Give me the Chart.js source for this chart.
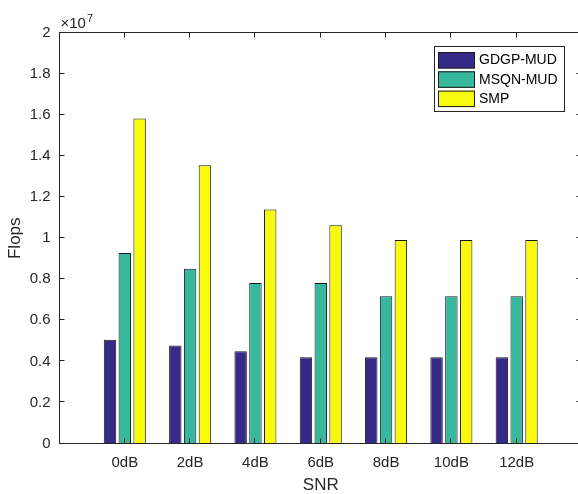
<!DOCTYPE html>
<html>
<head>
<meta charset="utf-8">
<script src="https://cdn.jsdelivr.net/npm/chart.js@4/dist/chart.umd.min.js"></script>
<style>
  html, body { margin: 0; padding: 0; background: #fff; overflow: hidden; }
  /* o eixo direito do original fica cortado fora da imagem */
  #caixa { width: 578px; height: 494px; overflow: hidden; }
</style>
</head>
<body>
<div id="caixa"><canvas id="grafico" width="582" height="494"></canvas></div>
<script>
// valores (Flops)
const categorias = ['0dB', '2dB', '4dB', '6dB', '8dB', '10dB', '12dB'];
const gdgpMud = [5.06e6, 4.78e6, 4.49e6, 4.2e6, 4.2e6, 4.2e6, 4.2e6];
const msqnMud = [9.28e6, 8.52e6, 7.82e6, 7.82e6, 7.17e6, 7.17e6, 7.17e6];
const smp = [1.584e7, 1.356e7, 1.14e7, 1.063e7, 0.992e7, 0.992e7, 0.992e7];
const yTicks = [0, 0.2e7, 0.4e7, 0.6e7, 0.8e7, 1e7, 1.2e7, 1.4e7, 1.6e7, 1.8e7, 2e7];

const corEixo = '#262626';
const fonte = 'Liberation Sans, Arial, Helvetica, sans-serif';

// uma posicao vazia em cada ponta, como no eixo do MATLAB (0..8)
const rotulos = ['', ...categorias, ''];
const comPontas = arr => [null, ...arr, null];

const moldura = {
  id: 'moldura',
  afterDatasetsDraw(chart) {
    const { ctx, chartArea: a, scales: { x, y } } = chart;
    const L = Math.round(a.left) - 0.5, R = Math.round(a.right) - 0.5;
    const T = Math.round(a.top) - 0.5, B = Math.round(a.bottom) - 0.5;
    ctx.save();
    ctx.strokeStyle = corEixo;
    ctx.lineWidth = 1;
    ctx.beginPath();
    yTicks.forEach(v => {
      const py = Math.round(y.getPixelForValue(v)) - 0.5;
      ctx.moveTo(L, py); ctx.lineTo(L + 5, py);
      ctx.moveTo(R, py); ctx.lineTo(R - 5, py);
    });
    categorias.forEach((c, i) => {
      const px = Math.round(x.getPixelForValue(i + 1)) - 0.5;
      ctx.moveTo(px, T); ctx.lineTo(px, T + 5);
      ctx.moveTo(px, B); ctx.lineTo(px, B - 5);
    });
    ctx.stroke();
    ctx.strokeRect(L, T, R - L, B - T);

    // multiplicador do eixo y
    ctx.fillStyle = corEixo;
    ctx.textBaseline = 'alphabetic';
    ctx.textAlign = 'left';
    ctx.font = '15px ' + fonte;
    ctx.fillText('\u00d710', L + 1, 28);
    const w = ctx.measureText('\u00d710').width;
    ctx.font = '11px ' + fonte;
    ctx.fillText('7', L + w + 2, 22);
    ctx.restore();
  },
  afterDraw(chart) {
    // legenda no canto superior direito
    const ctx = chart.ctx;
    const bx = 434.5, by = 46.5, bw = 130, bh = 65;
    ctx.save();
    ctx.fillStyle = '#fff';
    ctx.fillRect(bx, by, bw, bh);
    ctx.strokeStyle = corEixo;
    ctx.lineWidth = 1;
    ctx.strokeRect(bx, by, bw, bh);
    ctx.font = '14px ' + fonte;
    ctx.textBaseline = 'middle';
    ctx.textAlign = 'left';
    chart.data.datasets.forEach((ds, i) => {
      const ry = 52 + i * 19.3;
      ctx.fillStyle = ds.backgroundColor;
      ctx.fillRect(438, ry, 37, 16.5);
      ctx.strokeStyle = '#1a1a1a';
      ctx.strokeRect(438.5, ry + 0.5, 36, 15.5);
      ctx.fillStyle = '#000';
      ctx.fillText(ds.label, 479, ry + 8.5);
    });
    ctx.restore();
  }
};

new Chart(document.getElementById('grafico'), {
  type: 'bar',
  data: {
    labels: rotulos,
    datasets: [
      { label: 'GDGP-MUD', data: comPontas(gdgpMud), backgroundColor: '#352a87' },
      { label: 'MSQN-MUD', data: comPontas(msqnMud), backgroundColor: '#37b89d' },
      { label: 'SMP', data: comPontas(smp), backgroundColor: '#f8fa0d' }
    ]
  },
  options: {
    responsive: false,
    animation: false,
    devicePixelRatio: 1,
    layout: { padding: { top: 33, right: 0, left: 0, bottom: 0 } },
    datasets: {
      bar: {
        categoryPercentage: 0.68,
        barPercentage: 0.84,
        borderWidth: 1,
        borderColor: '#1a1a1a'
      }
    },
    scales: {
      x: {
        offset: false,
        grid: { display: false, drawTicks: false },
        border: { display: false },
        ticks: {
          color: corEixo,
          font: { family: fonte, size: 15 },
          padding: 10,
          maxRotation: 0,
          autoSkip: false
        },
        title: {
          display: true,
          text: 'SNR',
          color: corEixo,
          font: { family: fonte, size: 17, lineHeight: 1 },
          padding: { top: 0, bottom: 0 }
        },
        afterFit(s) {
          s.height = 50.5;
          s.paddingLeft = 0;
          s.paddingRight = 0;
        }
      },
      y: {
        min: 0,
        max: 2e7,
        grid: { display: false, drawTicks: false },
        border: { display: false },
        ticks: {
          stepSize: 2e6,
          color: corEixo,
          font: { family: fonte, size: 15 },
          padding: 9,
          callback: v => String(+(v / 1e7).toFixed(1))
        },
        title: {
          display: true,
          text: 'Flops',
          color: corEixo,
          font: { family: fonte, size: 17 },
          padding: { top: 5, bottom: 0 }
        },
        afterFit(s) { s.width = 59.5; }
      }
    },
    plugins: {
      legend: { display: false },
      tooltip: { enabled: false }
    }
  },
  plugins: [moldura]
});
</script>
</body>
</html>
